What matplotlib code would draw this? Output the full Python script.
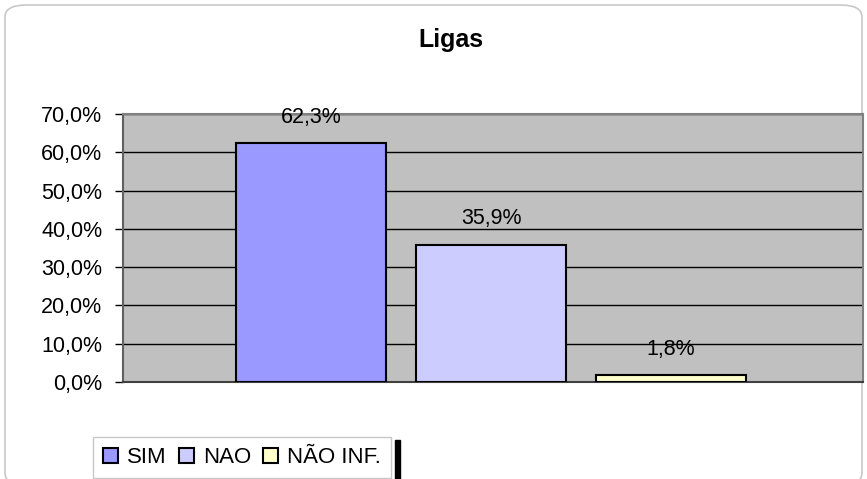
import matplotlib
matplotlib.use('Agg')
from matplotlib import pyplot as plt
from matplotlib.patches import FancyBboxPatch, Rectangle
import numpy as np

plt.rcParams['font.family'] = ['Liberation Sans', 'DejaVu Sans']

# data
series = ['SIM', 'NAO', 'NÃO INF.']
values = [62.3, 35.9, 1.8]
labels = ['62,3%', '35,9%', '1,8%']
colors = ['#9999FF', '#CCCCFF', '#FFFFCC']
yticks = [0, 10, 20, 30, 40, 50, 60, 70]

W, H = 867, 479
fig = plt.figure(figsize=(W / 100, H / 100), dpi=100)

# outer rounded frame
frame = FancyBboxPatch((5 / W, -6 / H), 857 / W, 480 / H,
                       boxstyle='round,pad=0,rounding_size=0.025',
                       transform=fig.transFigure, facecolor='white',
                       edgecolor='#C8C8C8', linewidth=1.2, zorder=-5)
fig.patches.append(frame)

ax = fig.add_axes([123 / W, 1 - 382 / H, 740 / W, 268 / H])
ax.set_facecolor('#C0C0C0')

x = np.arange(len(values))
for i in range(len(values)):
    ax.bar(x[i], values[i], width=150 / 180, color=colors[i],
           edgecolor='black', linewidth=1.5, label=series[i], zorder=3)
    ax.annotate(labels[i], (x[i], values[i]), xytext=(0, 26),
                textcoords='offset pixels', ha='center', va='center',
                fontsize=15.5, zorder=4)

ax.set_xlim(-188 / 180, 2 + 192 / 180)
ax.set_ylim(0, 70)
ax.set_yticks(yticks)
ax.set_yticklabels(['%d,0%%' % t for t in yticks], fontsize=15.5)
ax.yaxis.grid(True, color='black', linewidth=1, zorder=1)
ax.set_axisbelow(True)
ax.set_xticks([])
ax.tick_params(axis='y', length=6, width=1, pad=9)
for side in ['top', 'right', 'left']:
    ax.spines[side].set_color('#808080')
    ax.spines[side].set_linewidth(1.5)
ax.spines['left'].set_color('#606060')
ax.spines['bottom'].set_color('#404040')
ax.spines['bottom'].set_linewidth(1.5)

fig.text(451 / W, 1 - 40 / H, 'Ligas', ha='center', va='center',
         fontsize=18, fontweight='bold')

leg = fig.legend(loc='upper left', bbox_to_anchor=(93 / W, 1 - 437 / H),
                 borderaxespad=0, ncol=3, fontsize=16,
                 handlelength=0.68, handleheight=0.68,
                 handletextpad=0.4, columnspacing=0.55, borderpad=0.45,
                 fancybox=False, edgecolor='#C8C8C8', framealpha=1)
leg.get_frame().set_linewidth(1)

fig.patches.append(Rectangle((395 / W, 0), 5 / W, 39 / H,
                             transform=fig.transFigure, color='black'))

fig.savefig('out.png', dpi=100)
